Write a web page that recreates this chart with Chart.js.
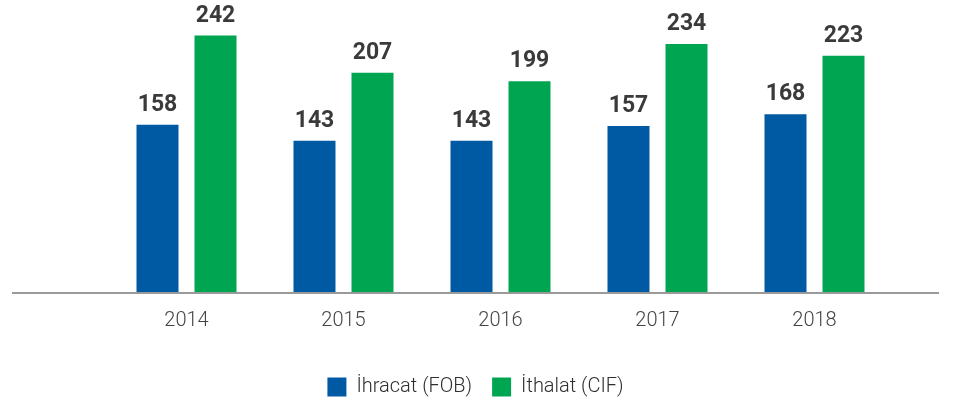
<!DOCTYPE html>
<html>
<head>
<meta charset="utf-8">
<script src="https://cdn.jsdelivr.net/npm/chart.js@4.4.1/dist/chart.umd.min.js"></script>
<style>
  html, body { margin: 0; padding: 0; background: #fff; }
  #wrap { width: 955px; height: 402px; position: relative; }
</style>
</head>
<body>
<div id="wrap"><canvas id="barChart" width="955" height="402"></canvas></div>
<script>
var years = ["2014", "2015", "2016", "2017", "2018"];
var ihracat = [158, 143, 143, 157, 168];
var ithalat = [242, 207, 199, 234, 223];

// etiketler ve taban çizgisi
var valueLabels = {
  id: "valueLabels",
  afterLayout: function(chart) {
    // lejantı sayfanın ortasına al
    var lg = chart.legend;
    lg.left = 0;
    lg.right = chart.width - 4;
    lg.width = lg.right;
  },
  afterDatasetsDraw: function(chart) {
    var ctx = chart.ctx;
    ctx.save();
    ctx.fillStyle = "#3a3a3a";
    ctx.font = "bold 23px Roboto";
    ctx.textAlign = "center";
    ctx.textBaseline = "bottom";
    chart.data.datasets.forEach(function(ds, i) {
      chart.getDatasetMeta(i).data.forEach(function(bar, j) {
        ctx.fillText(ds.data[j], bar.x, bar.y - 8);
      });
    });
    var y0 = chart.scales.y.getPixelForValue(0);
    ctx.strokeStyle = "#9a9a9a";
    ctx.lineWidth = 2;
    ctx.beginPath();
    ctx.moveTo(12, y0);
    ctx.lineTo(939, y0);
    ctx.stroke();
    ctx.restore();
  }
};

var ctx = document.getElementById("barChart").getContext("2d");
new Chart(ctx, {
  type: "bar",
  data: {
    labels: years,
    datasets: [
      {
        label: "İhracat (FOB)",
        data: ihracat,
        backgroundColor: "#005aa3",
        barPercentage: 0.724,
        categoryPercentage: 0.739
      },
      {
        label: "İthalat (CIF)",
        data: ithalat,
        backgroundColor: "#00a551",
        barPercentage: 0.724,
        categoryPercentage: 0.739
      }
    ]
  },
  options: {
    responsive: false,
    animation: false,
    layout: { padding: { left: 108, right: 62, top: 12, bottom: -5 } },
    plugins: {
      legend: {
        position: "bottom",
        labels: {
          boxWidth: 19,
          boxHeight: 19,
          padding: 20,
          color: "#2e2e2e",
          font: { family: "Roboto", size: 20, weight: "300" }
        }
      },
      tooltip: { enabled: false }
    },
    scales: {
      x: {
        grid: { display: false },
        border: { display: false },
        ticks: {
          color: "#444",
          padding: 8,
          font: { family: "Roboto", size: 20, weight: "300" }
        },
        afterFit: function(scale) {
          scale.height += 16;
        }
      },
      y: {
        display: false,
        min: 0,
        max: 264
      }
    }
  },
  plugins: [valueLabels]
});
</script>
</body>
</html>
